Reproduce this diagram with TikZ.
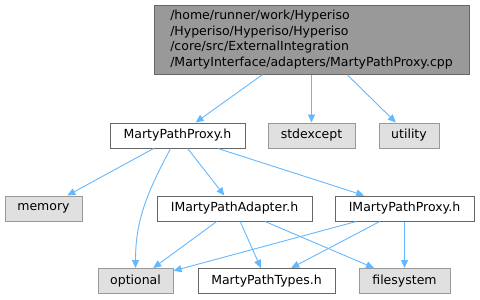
\documentclass[tikz,border=0pt]{standalone}
\usepackage{fontspec}
\setmainfont{DejaVu Sans}
\usetikzlibrary{arrows.meta}
\definecolor{edgeblue}{HTML}{63B8FF}
\definecolor{topfill}{HTML}{999999}
\definecolor{boxdraw}{HTML}{666666}
\definecolor{sysfill}{HTML}{E0E0E0}
\definecolor{sysdraw}{HTML}{999999}
\begin{document}
\begin{tikzpicture}[x=1pt,y=1pt]
\useasboundingbox (0,0) rectangle (480,-300);
\begin{scope}[every node/.style={rectangle,draw=boxdraw,fill=white,line width=1pt,
                                 minimum height=25pt,inner sep=0pt,
                                 font=\fontsize{12.5}{15.5}\selectfont},
              sys/.style={fill=sysfill,draw=sysdraw}]
    \node [fill=topfill,minimum width=315pt,minimum height=69pt,align=left] (cpp) at (311.5,-39.5)
        {/home/runner/work/Hyperiso\\/Hyperiso/Hyperiso/Hyperiso\\/core/src/ExternalIntegration\\/MartyInterface/adapters/MartyPathProxy.cpp};
    \node [minimum width=135pt] (proxyh) at (177.5,-135.5) {MartyPathProxy.h};
    \node [sys,minimum width=87pt] (stdexcept) at (311.5,-135.5) {stdexcept};
    \node [sys,minimum width=60pt] (utility) at (409,-135.5) {utility};
    \node [sys,minimum width=77pt] (memory) at (43.5,-208.5) {memory};
    \node [minimum width=155pt] (adapter) at (234.5,-208.5) {IMartyPathAdapter.h};
    \node [minimum width=139pt] (iproxy) at (404.5,-208.5) {IMartyPathProxy.h};
    \node [sys,minimum width=75pt] (optional) at (135.5,-281) {optional};
    \node [minimum width=137pt] (types) at (266.5,-281) {MartyPathTypes.h};
    \node [sys,minimum width=91pt] (filesystem) at (404.5,-281) {filesystem};
\end{scope}
\begin{scope}[>={Stealth[edgeblue,inset=0pt,length=8pt,width=7pt]},
              blue_edge/.style={draw=edgeblue,line width=0.9pt}]
    \path [->] (cpp) edge [blue_edge] (proxyh);
    \path [->] (cpp) edge [blue_edge] (stdexcept);
    \path [->] (cpp) edge [blue_edge] (utility);
    \path [->] (proxyh) edge [blue_edge] (memory);
    \path [->] (proxyh) edge [blue_edge,out=-118,in=90] (optional);
    \path [->] (proxyh) edge [blue_edge] (adapter);
    \path [->] (proxyh) edge [blue_edge] (iproxy);
    \path [->] (adapter) edge [blue_edge] (optional);
    \path [->] (adapter) edge [blue_edge] (types);
    \path [->] (adapter) edge [blue_edge] (filesystem);
    \path [->] (iproxy) edge [blue_edge] (optional);
    \path [->] (iproxy) edge [blue_edge] (types);
    \path [->] (iproxy) edge [blue_edge] (filesystem);
\end{scope}
\end{tikzpicture}
\end{document}
